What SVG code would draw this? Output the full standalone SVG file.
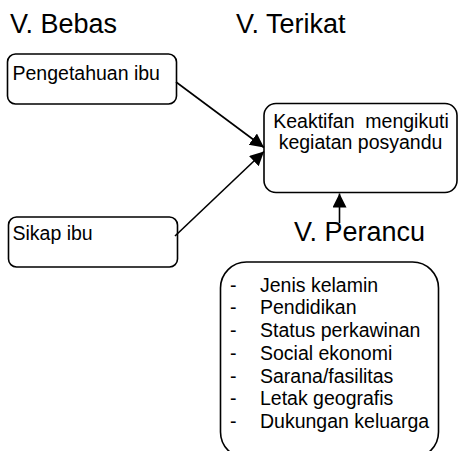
<svg xmlns="http://www.w3.org/2000/svg" width="458" height="451" viewBox="0 0 458 451">
<defs>
<style>
text{font-family:"Liberation Sans",Arial,sans-serif;fill:#000}
.title{font-size:27px}
.body{font-size:19.5px}
.box{fill:#fff;stroke:#000;stroke-width:1.6}
.conn{stroke:#000;stroke-width:1.6;fill:none}
</style>
<marker id="ah" markerUnits="userSpaceOnUse" markerWidth="15" markerHeight="15" refX="14" refY="7" orient="auto">
<path d="M0,0 L14,7 L0,14 z" fill="#000"/>
</marker>
</defs>
<rect width="458" height="451" fill="#fff"/>
<g id="titles">
<text class="title" x="10" y="33">V. Bebas</text>
<text class="title" x="236" y="33">V. Terikat</text>
</g>
<g id="node-pengetahuan">
<rect class="box" x="7.5" y="54" width="169" height="50" rx="8"/>
<text class="body" x="12.5" y="79.5">Pengetahuan ibu</text>
</g>
<g id="node-sikap">
<rect class="box" x="8.5" y="217" width="169" height="50" rx="8"/>
<text class="body" x="12.5" y="239.5">Sikap ibu</text>
</g>
<g id="node-keaktifan">
<rect class="box" x="264" y="103.5" width="193" height="89" rx="12"/>
<text class="body" x="361" y="127.5" text-anchor="middle" xml:space="preserve" style="white-space:pre">Keaktifan  mengikuti</text>
<text class="body" x="360.5" y="149" text-anchor="middle">kegiatan posyandu</text>
</g>
<g id="node-perancu">
<rect class="box" x="220.5" y="262" width="218" height="196" rx="26"/>
<g class="body">
<text class="body" x="230" y="291.7">-</text><text class="body" x="260" y="291.7">Jenis kelamin</text>
<text class="body" x="230" y="314.4">-</text><text class="body" x="260" y="314.4">Pendidikan</text>
<text class="body" x="230" y="337.1">-</text><text class="body" x="260" y="337.1">Status perkawinan</text>
<text class="body" x="230" y="359.8">-</text><text class="body" x="260" y="359.8">Social ekonomi</text>
<text class="body" x="230" y="382.5">-</text><text class="body" x="260" y="382.5">Sarana/fasilitas</text>
<text class="body" x="230" y="405.2">-</text><text class="body" x="260" y="405.2">Letak geografis</text>
<text class="body" x="230" y="427.9">-</text><text class="body" x="260" y="427.9">Dukungan keluarga</text>
</g>
</g>
<g id="connectors">
<line class="conn" x1="176" y1="82" x2="264" y2="147.5" marker-end="url(#ah)"/>
<line class="conn" x1="175" y1="236" x2="264" y2="151.5" marker-end="url(#ah)"/>
<line class="conn" x1="339.5" y1="223" x2="339.5" y2="193.5" marker-end="url(#ah)"/>
</g>
<g id="label-perancu">
<text class="title" x="294" y="241">V. Perancu</text>
</g>
</svg>
